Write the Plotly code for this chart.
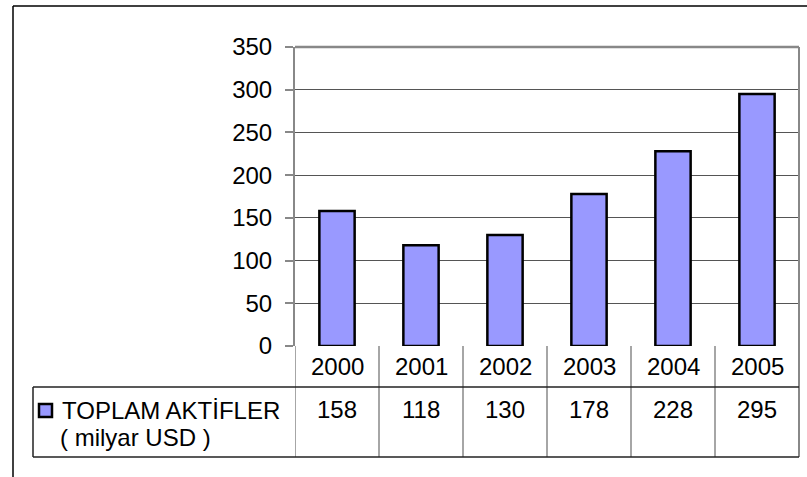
import plotly.graph_objects as go

# data
years = ["2000", "2001", "2002", "2003", "2004", "2005"]
assets = [158, 118, 130, 178, 228, 295]
series_name = "TOPLAM AKTİFLER"
series_unit = "( milyar USD )"
y_ticks = [0, 50, 100, 150, 200, 250, 300, 350]

BAR = "#9999FF"
GRID = "#555555"
BORDER = "#888888"
FONT = "Liberation Sans, Arial, sans-serif"
FS = 24

W, H = 807, 477
L, R, T, B = 295, 8, 47, 131
pw, ph = W - L - R, H - T - B


def px_x(x):
    return (x - L) / pw


def px_y(y):
    return (H - B - y) / ph


fig = go.Figure(go.Bar(
    x=years, y=assets, name=series_name,
    marker=dict(color=BAR, line=dict(color="black", width=2.5)),
    hoverinfo="x+y",
))

shapes = []
annots = []

# outer chart frame (clipped on right/bottom in the original)
shapes.append(dict(type="line", xref="paper", yref="paper",
                   x0=px_x(13), x1=px_x(13), y0=px_y(480), y1=px_y(6),
                   line=dict(color="black", width=1.5)))
shapes.append(dict(type="line", xref="paper", yref="paper",
                   x0=px_x(13), x1=px_x(810), y0=px_y(6), y1=px_y(6),
                   line=dict(color="black", width=1.5)))

# plot area border top / right
shapes.append(dict(type="line", xref="paper", yref="paper",
                   x0=0, x1=1, y0=1, y1=1, line=dict(color=BORDER, width=2.5)))
shapes.append(dict(type="line", xref="paper", yref="paper",
                   x0=1, x1=1, y0=px_y(457), y1=1, line=dict(color=BORDER, width=2)))

# data table
row1_bot = px_y(387)
row2_bot = px_y(457)
tbl_left = px_x(33)
for i in range(len(years) + 1):
    shapes.append(dict(type="line", xref="x", yref="paper",
                       x0=i - 0.5, x1=i - 0.5, y0=row2_bot, y1=0,
                       line=dict(color=BORDER, width=1.5)))
for yy in (row1_bot, row2_bot):
    shapes.append(dict(type="line", xref="paper", yref="paper",
                       x0=tbl_left, x1=1, y0=yy, y1=yy,
                       line=dict(color="#222222", width=1.5)))
shapes.append(dict(type="line", xref="paper", yref="paper",
                   x0=tbl_left, x1=tbl_left, y0=row2_bot, y1=row1_bot,
                   line=dict(color="#222222", width=1.5)))

# legend key
shapes.append(dict(type="rect", xref="paper", yref="paper",
                   x0=px_x(39), x1=px_x(52), y0=px_y(417), y1=px_y(404),
                   fillcolor=BAR, line=dict(color="black", width=2.5)))

cell_font = dict(size=FS, color="black", family=FONT)
for i, (yr, v) in enumerate(zip(years, assets)):
    annots.append(dict(x=i, xref="x", y=px_y(366), yref="paper", text=yr,
                       xanchor="center", yanchor="middle",
                       showarrow=False, font=cell_font))
    annots.append(dict(x=i, xref="x", y=px_y(409), yref="paper", text=str(v),
                       xanchor="center", yanchor="middle",
                       showarrow=False, font=cell_font))

annots.append(dict(x=px_x(60), xref="paper", y=px_y(410), yref="paper",
                   text=series_name, xanchor="left", yanchor="middle",
                   showarrow=False, font=cell_font))
annots.append(dict(x=px_x(58), xref="paper", y=px_y(437), yref="paper",
                   text=series_unit, xanchor="left", yanchor="middle",
                   showarrow=False, font=cell_font))

fig.update_layout(
    width=W, height=H,
    margin=dict(l=L, r=R, t=T, b=B),
    paper_bgcolor="white", plot_bgcolor="white",
    bargap=0.58,
    showlegend=False,
    font=dict(family=FONT, size=FS, color="black"),
    shapes=shapes, annotations=annots,
    xaxis=dict(type="category", range=[-0.5, 5.5], showticklabels=False,
               showgrid=False, zeroline=False, showline=False, ticks="",
               fixedrange=True),
    yaxis=dict(range=[0, 350], tickvals=y_ticks, showgrid=True,
               gridcolor=GRID, gridwidth=1, zeroline=False,
               showline=True, linecolor=BORDER, linewidth=2,
               ticks="outside", ticklen=8, tickcolor=BORDER, tickwidth=1.5,
               tickfont=cell_font, ticklabelstandoff=8, automargin=False),
)

# page body has a default 8px margin; drop it so the figure sits at 0,0
fig.write_html("out.html", config={"displayModeBar": False},
               post_script="document.body.style.margin='0';")
